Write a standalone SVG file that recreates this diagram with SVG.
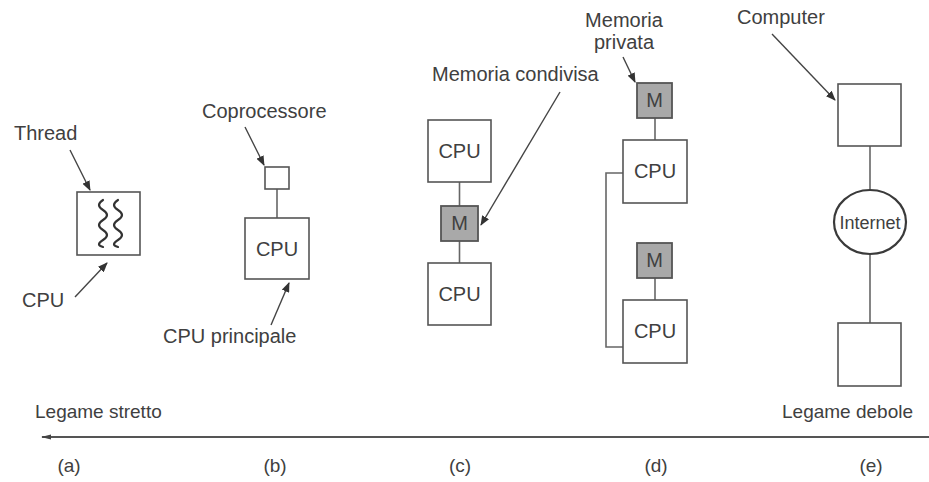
<svg xmlns="http://www.w3.org/2000/svg" width="929" height="482" viewBox="0 0 929 482">
<defs>
<marker id="ah" markerWidth="10" markerHeight="8" refX="9" refY="4" orient="auto" markerUnits="userSpaceOnUse">
<path d="M0,0 L10,4 L0,8 z" fill="#333"/>
</marker>
<marker id="axl" markerWidth="10" markerHeight="8" refX="1" refY="4" orient="auto" markerUnits="userSpaceOnUse">
<path d="M10,1.5 L0,4 L10,6.5 z" fill="#444"/>
</marker>
</defs>
<style>
text{font-family:"Liberation Sans",Arial,sans-serif;font-size:20px;fill:#404040}
.box{fill:#fff;stroke:#555;stroke-width:1.6}
.mem{fill:#a9a9a9;stroke:#555;stroke-width:1.8}
.ln{stroke:#666;stroke-width:1.6;fill:none}
.sq{stroke:#333;stroke-width:2.2;fill:none;stroke-linecap:round}
.arr{stroke:#444;stroke-width:1.4;fill:none;marker-end:url(#ah)}
.c{text-anchor:middle}
.sm{font-size:19px}
</style>
<rect width="929" height="482" fill="#fff"/>

<g id="connectors">
<line class="ln" x1="277" y1="189" x2="277" y2="218"/>
<line class="ln" x1="459.5" y1="182" x2="459.5" y2="206"/>
<line class="ln" x1="459.5" y1="241" x2="459.5" y2="263"/>
<line class="ln" x1="655" y1="118" x2="655" y2="140"/>
<line class="ln" x1="655" y1="278" x2="655" y2="300"/>
<path class="ln" d="M623,173 H606 V347 H623"/>
<line class="ln" x1="870" y1="146" x2="870" y2="190"/>
<line class="ln" x1="870" y1="254" x2="870" y2="323"/>
<line class="arr" x1="70" y1="150" x2="90" y2="190"/>
<line class="arr" x1="75" y1="297" x2="107" y2="263"/>
<line class="arr" x1="245" y1="127" x2="264" y2="165"/>
<line class="arr" x1="271" y1="325" x2="289" y2="283"/>
<line class="arr" x1="560" y1="92" x2="481" y2="225"/>
<line class="arr" x1="623" y1="57" x2="635" y2="82"/>
<line class="arr" x1="772" y1="34" x2="835" y2="100"/>
<line x1="42" y1="437" x2="929" y2="437" stroke="#555" stroke-width="2" marker-start="url(#axl)"/>
</g>

<g id="a-cpu">
<rect class="box" x="77" y="192" width="63" height="63"/>
<path class="sq" d="M103,200 q-8,5 0,10 q8,5 0,10 q-8,5 0,10 q8,5 0,10 q-8,5 0,7"/>
<path class="sq" d="M118,200 q-8,5 0,10 q8,5 0,10 q-8,5 0,10 q8,5 0,10 q-8,5 0,7"/>
<text x="14" y="140">Thread</text>
<text x="22" y="307">CPU</text>
</g>

<g id="b-coproc">
<rect class="box" x="265" y="167" width="24" height="22"/>
<text x="202" y="118">Coprocessore</text>
</g>
<g id="b-cpu">
<rect class="box" x="245" y="218" width="64" height="61"/>
<text class="c" x="277" y="256">CPU</text>
<text x="163" y="343">CPU principale</text>
</g>

<g id="c-cpu1">
<rect class="box" x="428" y="120" width="63" height="62"/>
<text class="c" x="459.5" y="158">CPU</text>
</g>
<g id="c-mem">
<rect class="mem" x="441" y="206" width="37" height="35"/>
<text class="c" x="459.5" y="230">M</text>
<text x="432" y="81">Memoria condivisa</text>
</g>
<g id="c-cpu2">
<rect class="box" x="428" y="263" width="63" height="62"/>
<text class="c" x="459.5" y="301">CPU</text>
</g>

<g id="d-mem1">
<rect class="mem" x="637" y="83" width="35" height="35"/>
<text class="c" x="654.5" y="107">M</text>
<text class="c" x="624" y="27">Memoria</text>
<text class="c" x="624" y="49">privata</text>
</g>
<g id="d-cpu1">
<rect class="box" x="623" y="140" width="64" height="63"/>
<text class="c" x="655" y="178">CPU</text>
</g>
<g id="d-mem2">
<rect class="mem" x="637" y="243" width="35" height="35"/>
<text class="c" x="654.5" y="267">M</text>
</g>
<g id="d-cpu2">
<rect class="box" x="623" y="300" width="64" height="63"/>
<text class="c" x="655" y="338">CPU</text>
</g>

<g id="e-comp1">
<rect class="box" x="838" y="84" width="63" height="62"/>
<text x="737" y="24">Computer</text>
</g>
<g id="e-internet">
<ellipse cx="870" cy="222" rx="36" ry="32" fill="#fff" stroke="#3a3a3a" stroke-width="2.2"/>
<text class="c" x="870" y="229" style="font-size:18px">Internet</text>
</g>
<g id="e-comp2">
<rect class="box" x="838" y="323" width="63" height="63"/>
</g>

<g id="axis">
<text class="sm" x="35" y="418">Legame stretto</text>
<text class="sm" x="913" y="418" text-anchor="end">Legame debole</text>
<text class="sm c" x="69" y="472">(a)</text>
<text class="sm c" x="275" y="472">(b)</text>
<text class="sm c" x="460" y="472">(c)</text>
<text class="sm c" x="656" y="472">(d)</text>
<text class="sm c" x="871" y="472">(e)</text>
</g>
</svg>
